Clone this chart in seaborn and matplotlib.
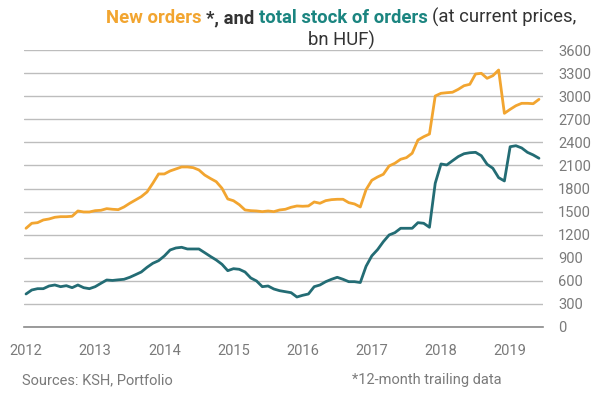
import matplotlib
matplotlib.use("Agg")
import matplotlib.pyplot as plt
import seaborn as sns
import numpy as np
import pandas as pd

# ---- data (monthly, Jan 2012 - Jun 2019), bn HUF ----
new_orders = [1283, 1348, 1356, 1391, 1404, 1426, 1434, 1434, 1439, 1508, 1495, 1495,
              1512, 1517, 1538, 1530, 1525, 1560, 1608, 1651, 1694, 1755, 1868, 1989,
              1989, 2028, 2054, 2080, 2080, 2071, 2041, 1975, 1930, 1889, 1803, 1664,
              1641, 1590, 1521, 1512, 1508, 1499, 1508, 1499, 1521, 1530, 1556, 1573,
              1569, 1573, 1625, 1608, 1642, 1655, 1660, 1660, 1616, 1599, 1560, 1785,
              1907, 1950, 1985, 2093, 2128, 2180, 2201, 2258, 2430, 2473, 2508, 3002,
              3037, 3045, 3051, 3089, 3136, 3154, 3288, 3297, 3232, 3266, 3340, 2777,
              2829, 2876, 2907, 2907, 2902, 2959]
stock_orders = [429, 481, 498, 498, 533, 546, 524, 537, 511, 546, 511, 498,
                524, 568, 611, 605, 613, 620, 646, 680, 715, 776, 828, 862,
                923, 1001, 1027, 1036, 1014, 1014, 1014, 966, 917, 871, 815, 732,
                758, 750, 715, 637, 598, 524, 533, 494, 472, 459, 446, 390,
                412, 429, 524, 546, 589, 620, 646, 620, 589, 589, 578, 789,
                925, 1006, 1109, 1196, 1226, 1283, 1283, 1283, 1356, 1348, 1296, 1868,
                2119, 2106, 2161, 2215, 2252, 2265, 2270, 2226, 2115, 2063, 1941, 1898,
                2343, 2356, 2327, 2270, 2236, 2193]
start_year = 2012
year_labels = ["2012", "2013", "2014", "2015", "2016", "2017", "2018", "2019"]
y_ticks = [0, 300, 600, 900, 1200, 1500, 1800, 2100, 2400, 2700, 3000, 3300, 3600]

ORANGE = "#F2A530"
TEAL = "#236C74"
TEAL_T = "#1B8580"
DARK = "#333333"
GRAY = "#7a7a7a"

months = np.arange(len(new_orders))
xdec = start_year + months / 12.0
df = pd.DataFrame({"x": np.concatenate([xdec, xdec]),
                   "value": new_orders + stock_orders,
                   "series": ["New orders"] * len(new_orders) + ["Total stock"] * len(stock_orders)})

sns.set_theme(style="white")
plt.rcParams['font.family'] = ['Roboto', 'DejaVu Sans']

W, H = 612, 393
fig = plt.figure(figsize=(W / 100, H / 100), dpi=100)
ax = fig.add_axes([24 / W, 1 - 327 / H, (543 - 24) / W, (327 - 50) / H])

sns.lineplot(data=df, x="x", y="value", hue="series", palette=[ORANGE, TEAL],
             linewidth=2.0, ax=ax, legend=False)

ax.set_xlim(start_year - 0.35 / 12, start_year + 89.7 / 12)
ax.set_ylim(0, 3600)
ax.set_yticks(y_ticks)
ax.yaxis.tick_right()
ax.grid(axis="y", color="#bdbdbd", linewidth=1.0)
ax.grid(axis="x", visible=False)
ax.set_axisbelow(True)
for s in ["top", "left", "right"]:
    ax.spines[s].set_visible(False)
ax.spines["bottom"].set_color("#8a8a8a")
ax.spines["bottom"].set_linewidth(1.2)
ax.set_xticks([start_year + i for i in range(len(year_labels))])
ax.set_xticklabels(year_labels)
ax.tick_params(axis="x", length=0, pad=12, labelsize=10.5, labelcolor=GRAY)
ax.tick_params(axis="y", length=0, pad=11, labelsize=10.5, labelcolor=GRAY)
ax.set_xlabel("")
ax.set_ylabel("")

# ---- multi-colour title ----
fig.canvas.draw()
renderer = fig.canvas.get_renderer()
fs = 13.3
pieces = [("New orders ", ORANGE, "bold"), ("*, and ", DARK, "bold"),
          ("total stock of orders ", TEAL_T, "bold"), ("(at current prices,", DARK, "normal")]
texts = []
widths = []
for s, c, w in pieces:
    t = fig.text(0, 0, s, color=c, fontweight=w, fontsize=fs, va="baseline", ha="left")
    bb = t.get_window_extent(renderer)
    widths.append(bb.width)
    texts.append(t)
total = sum(widths)
cx = 341
x0 = cx - total / 2
base1 = 1 - 23 / H
for t, w in zip(texts, widths):
    t.set_position((x0 / W, base1))
    x0 += w
fig.text(cx / W, 1 - 46 / H, "bn HUF)", color=DARK, fontsize=fs, ha="center", va="baseline")

fig.text(22 / W, 1 - 380 / H, "Sources: KSH, Portfolio", color=GRAY, fontsize=10.5,
         ha="left", va="center")
fig.text(352 / W, 1 - 380 / H, "*12-month trailing data", color=GRAY, fontsize=10.5,
         ha="left", va="center")

fig.savefig("out.png", dpi=100)
